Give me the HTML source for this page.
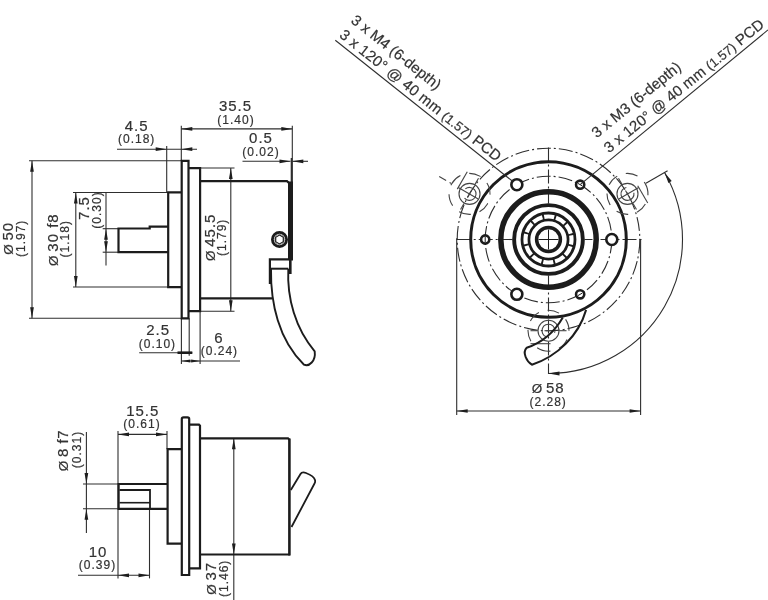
<!DOCTYPE html>
<html><head><meta charset="utf-8"><style>
html,body{margin:0;padding:0;background:#fff;}
svg{display:block;font-family:"Liberation Sans",sans-serif;will-change:transform;}
</style></head><body>
<svg width="768" height="600" viewBox="0 0 768 600">
<rect width="768" height="600" fill="#fff"/>
<text x="235.50" y="111.00" font-size="15" letter-spacing="1.0" text-anchor="middle" fill="#333" stroke="#333" stroke-width="0.2" >35.5</text>
<text x="236.00" y="124.20" font-size="12" letter-spacing="1.0" text-anchor="middle" fill="#333" stroke="#333" stroke-width="0.2" >(1.40)</text>
<text x="136.60" y="130.50" font-size="15" letter-spacing="1.0" text-anchor="middle" fill="#333" stroke="#333" stroke-width="0.2" >4.5</text>
<text x="136.70" y="143.00" font-size="12" letter-spacing="1.0" text-anchor="middle" fill="#333" stroke="#333" stroke-width="0.2" >(0.18)</text>
<text x="261.00" y="143.00" font-size="15" letter-spacing="1.0" text-anchor="middle" fill="#333" stroke="#333" stroke-width="0.2" >0.5</text>
<text x="261.00" y="156.00" font-size="12" letter-spacing="1.0" text-anchor="middle" fill="#333" stroke="#333" stroke-width="0.2" >(0.02)</text>
<text x="158.20" y="334.50" font-size="15" letter-spacing="1.0" text-anchor="middle" fill="#333" stroke="#333" stroke-width="0.2" >2.5</text>
<text x="157.40" y="348.30" font-size="12" letter-spacing="1.0" text-anchor="middle" fill="#333" stroke="#333" stroke-width="0.2" >(0.10)</text>
<text x="219.00" y="342.50" font-size="15" letter-spacing="1.0" text-anchor="middle" fill="#333" stroke="#333" stroke-width="0.2" >6</text>
<text x="219.40" y="355.00" font-size="12" letter-spacing="1.0" text-anchor="middle" fill="#333" stroke="#333" stroke-width="0.2" >(0.24)</text>
<text x="13.50" y="238.40" font-size="15" letter-spacing="1.0" text-anchor="middle" fill="#333" stroke="#333" stroke-width="0.2" transform="rotate(-90 13.50 238.40)" ><tspan font-size="13.5" letter-spacing="0">Ø </tspan>50</text>
<text x="25.00" y="238.30" font-size="12" letter-spacing="1.0" text-anchor="middle" fill="#333" stroke="#333" stroke-width="0.2" transform="rotate(-90 25.00 238.30)" >(1.97)</text>
<text x="58.30" y="239.60" font-size="15" letter-spacing="1.0" text-anchor="middle" fill="#333" stroke="#333" stroke-width="0.2" transform="rotate(-90 58.30 239.60)" ><tspan font-size="13.5" letter-spacing="0">Ø </tspan>30 f8</text>
<text x="69.50" y="238.70" font-size="12" letter-spacing="1.0" text-anchor="middle" fill="#333" stroke="#333" stroke-width="0.2" transform="rotate(-90 69.50 238.70)" >(1.18)</text>
<text x="89.20" y="208.00" font-size="15" letter-spacing="1.0" text-anchor="middle" fill="#333" stroke="#333" stroke-width="0.2" transform="rotate(-90 89.20 208.00)" >7.5</text>
<text x="100.80" y="210.00" font-size="12" letter-spacing="1.0" text-anchor="middle" fill="#333" stroke="#333" stroke-width="0.2" transform="rotate(-90 100.80 210.00)" >(0.30)</text>
<text x="215.50" y="237.30" font-size="15" letter-spacing="1.0" text-anchor="middle" fill="#333" stroke="#333" stroke-width="0.2" transform="rotate(-90 215.50 237.30)" ><tspan font-size="13.5" letter-spacing="0">Ø </tspan>45.5</text>
<text x="226.00" y="237.30" font-size="12" letter-spacing="1.0" text-anchor="middle" fill="#333" stroke="#333" stroke-width="0.2" transform="rotate(-90 226.00 237.30)" >(1.79)</text>
<line x1="29.00" y1="160.80" x2="181.00" y2="160.80" stroke="#2e2e2e" stroke-width="1.1" />
<line x1="29.00" y1="318.30" x2="181.00" y2="318.30" stroke="#2e2e2e" stroke-width="1.1" />
<line x1="32.00" y1="160.80" x2="32.00" y2="318.30" stroke="#2e2e2e" stroke-width="1.1" />
<path d="M32.00,160.80 L33.85,171.80 L30.15,171.80 Z" fill="#1e1e1e"/>
<path d="M32.00,318.30 L30.15,307.30 L33.85,307.30 Z" fill="#1e1e1e"/>
<line x1="73.00" y1="192.50" x2="168.00" y2="192.50" stroke="#2e2e2e" stroke-width="1.1" />
<line x1="73.00" y1="287.00" x2="168.00" y2="287.00" stroke="#2e2e2e" stroke-width="1.1" />
<line x1="75.80" y1="192.50" x2="75.80" y2="287.00" stroke="#2e2e2e" stroke-width="1.1" />
<path d="M75.80,192.50 L77.65,203.50 L73.95,203.50 Z" fill="#1e1e1e"/>
<path d="M75.80,287.00 L73.95,276.00 L77.65,276.00 Z" fill="#1e1e1e"/>
<line x1="102.70" y1="228.70" x2="118.50" y2="228.70" stroke="#2e2e2e" stroke-width="1.1" />
<line x1="102.70" y1="252.20" x2="118.50" y2="252.20" stroke="#2e2e2e" stroke-width="1.1" />
<line x1="106.00" y1="192.70" x2="106.00" y2="265.50" stroke="#2e2e2e" stroke-width="1.1" />
<path d="M106.00,228.70 L107.85,239.70 L104.15,239.70 Z" fill="#1e1e1e"/>
<path d="M106.00,252.20 L104.15,241.20 L107.85,241.20 Z" fill="#1e1e1e"/>
<line x1="166.70" y1="146.00" x2="166.70" y2="192.50" stroke="#2e2e2e" stroke-width="1.1" />
<line x1="181.30" y1="125.80" x2="181.30" y2="160.80" stroke="#2e2e2e" stroke-width="1.1" />
<line x1="117.00" y1="149.20" x2="197.00" y2="149.20" stroke="#2e2e2e" stroke-width="1.1" />
<path d="M166.70,149.20 L155.70,151.05 L155.70,147.35 Z" fill="#1e1e1e"/>
<path d="M181.30,149.20 L192.30,147.35 L192.30,151.05 Z" fill="#1e1e1e"/>
<line x1="181.30" y1="128.90" x2="292.30" y2="128.90" stroke="#2e2e2e" stroke-width="1.1" />
<path d="M181.30,128.90 L192.30,127.05 L192.30,130.75 Z" fill="#1e1e1e"/>
<path d="M292.30,128.90 L281.30,130.75 L281.30,127.05 Z" fill="#1e1e1e"/>
<line x1="292.30" y1="125.80" x2="292.30" y2="158.00" stroke="#2e2e2e" stroke-width="1.1" />
<line x1="291.80" y1="158.00" x2="291.80" y2="182.00" stroke="#2e2e2e" stroke-width="2.2" />
<line x1="242.50" y1="161.30" x2="290.50" y2="161.30" stroke="#2e2e2e" stroke-width="1.1" />
<path d="M290.50,161.30 L279.50,163.15 L279.50,159.45 Z" fill="#1e1e1e"/>
<line x1="292.30" y1="161.30" x2="308.00" y2="161.30" stroke="#2e2e2e" stroke-width="1.1" />
<path d="M292.30,161.30 L303.30,159.45 L303.30,163.15 Z" fill="#1e1e1e"/>
<line x1="200.00" y1="168.00" x2="234.50" y2="168.00" stroke="#2e2e2e" stroke-width="1.1" />
<line x1="200.00" y1="311.30" x2="234.50" y2="311.30" stroke="#2e2e2e" stroke-width="1.1" />
<line x1="230.80" y1="168.00" x2="230.80" y2="311.30" stroke="#2e2e2e" stroke-width="1.1" />
<path d="M230.80,168.00 L232.65,179.00 L228.95,179.00 Z" fill="#1e1e1e"/>
<path d="M230.80,311.30 L228.95,300.30 L232.65,300.30 Z" fill="#1e1e1e"/>
<line x1="181.40" y1="318.30" x2="181.40" y2="364.00" stroke="#2e2e2e" stroke-width="1.1" />
<line x1="189.20" y1="318.30" x2="189.20" y2="355.80" stroke="#2e2e2e" stroke-width="1.1" />
<line x1="200.10" y1="311.30" x2="200.10" y2="364.00" stroke="#2e2e2e" stroke-width="1.1" />
<line x1="139.20" y1="352.70" x2="192.30" y2="352.70" stroke="#2e2e2e" stroke-width="1.1" />
<line x1="177.50" y1="352.70" x2="192.30" y2="352.70" stroke="#1c1c1c" stroke-width="2.6" />
<line x1="181.40" y1="361.00" x2="240.00" y2="361.00" stroke="#2e2e2e" stroke-width="1.1" />
<path d="M181.40,361.00 L190.40,359.40 L190.40,362.60 Z" fill="#1e1e1e"/>
<path d="M200.10,361.00 L191.10,362.60 L191.10,359.40 Z" fill="#1e1e1e"/>
<path d="M168.40,226.70 L149.70,226.70 L149.70,228.50 L118.50,228.50 L118.50,252.20 L168.40,252.20" fill="none" stroke="#1c1c1c" stroke-width="2.2" stroke-linejoin="miter" />
<path d="M181.50,192.40 L168.20,192.40 L168.20,287.10 L181.50,287.10" fill="none" stroke="#1c1c1c" stroke-width="2.2" stroke-linejoin="miter" />
<path d="M181.70,318.30 L181.70,160.80 L188.50,160.80 L188.50,318.30 L181.70,318.30 Z" fill="none" stroke="#1c1c1c" stroke-width="2.2" stroke-linejoin="miter" />
<path d="M188.50,168.20 L200.10,168.20 L200.10,311.20 L188.50,311.20" fill="none" stroke="#1c1c1c" stroke-width="2.2" stroke-linejoin="miter" />
<path d="M200.10,181.20 L287.00,181.20 L289.50,183.50" fill="none" stroke="#1c1c1c" stroke-width="2.2" stroke-linejoin="miter" />
<path d="M200.10,298.30 L272.30,298.30" fill="none" stroke="#1c1c1c" stroke-width="2.2" stroke-linejoin="miter" />
<rect x="288" y="181.5" width="5" height="79" fill="#1c1c1c"/>
<rect x="289" y="258" width="2.6" height="16" fill="#1c1c1c"/>
<circle cx="279.5" cy="239.5" r="7.1" fill="#fff" stroke="#1c1c1c" stroke-width="2.8"/>
<circle cx="279.5" cy="239.5" r="5.1" fill="none" stroke="#888" stroke-width="0.8"/>
<polygon points="279.50,235.10 283.31,237.30 283.31,241.70 279.50,243.90 275.69,241.70 275.69,237.30" fill="none" stroke="#1c1c1c" stroke-width="1.2"/>
<path d="M288.30,259.30 L269.90,259.30 L269.90,284.00" fill="none" stroke="#1c1c1c" stroke-width="2.2" stroke-linejoin="miter" />
<line x1="271.00" y1="268.70" x2="288.30" y2="268.70" stroke="#1c1c1c" stroke-width="2" />
<path d="M271.0,268.7 C270.5,303.0 278.5,340.0 304.0,364.7 C309,367 316,361 314.7,351.3 C295.4,328.6 286.9,298.3 288.3,268.7" fill="none" stroke="#1c1c1c" stroke-width="1.9" />
<text x="142.80" y="416.40" font-size="15" letter-spacing="1.0" text-anchor="middle" fill="#333" stroke="#333" stroke-width="0.2" >15.5</text>
<text x="142.00" y="428.00" font-size="12" letter-spacing="1.0" text-anchor="middle" fill="#333" stroke="#333" stroke-width="0.2" >(0.61)</text>
<text x="98.00" y="557.00" font-size="15" letter-spacing="1.0" text-anchor="middle" fill="#333" stroke="#333" stroke-width="0.2" >10</text>
<text x="97.50" y="569.00" font-size="12" letter-spacing="1.0" text-anchor="middle" fill="#333" stroke="#333" stroke-width="0.2" >(0.39)</text>
<text x="68.20" y="450.50" font-size="15" letter-spacing="0.5" text-anchor="middle" fill="#333" stroke="#333" stroke-width="0.2" transform="rotate(-90 68.20 450.50)" ><tspan font-size="13.5" letter-spacing="0">Ø </tspan>8 f7</text>
<text x="80.50" y="449.50" font-size="12" letter-spacing="1.0" text-anchor="middle" fill="#333" stroke="#333" stroke-width="0.2" transform="rotate(-90 80.50 449.50)" >(0.31)</text>
<text x="216.00" y="578.30" font-size="15" letter-spacing="1.0" text-anchor="middle" fill="#333" stroke="#333" stroke-width="0.2" transform="rotate(-90 216.00 578.30)" ><tspan font-size="13.5" letter-spacing="0">Ø </tspan>37</text>
<text x="228.30" y="578.30" font-size="12" letter-spacing="1.0" text-anchor="middle" fill="#333" stroke="#333" stroke-width="0.2" transform="rotate(-90 228.30 578.30)" >(1.46)</text>
<line x1="118.00" y1="431.00" x2="118.00" y2="578.40" stroke="#2e2e2e" stroke-width="1.1" />
<line x1="167.00" y1="431.00" x2="167.00" y2="449.20" stroke="#2e2e2e" stroke-width="1.1" />
<line x1="118.00" y1="434.40" x2="167.00" y2="434.40" stroke="#2e2e2e" stroke-width="1.1" />
<path d="M118.00,434.40 L129.00,432.55 L129.00,436.25 Z" fill="#1e1e1e"/>
<path d="M167.00,434.40 L156.00,436.25 L156.00,432.55 Z" fill="#1e1e1e"/>
<line x1="86.40" y1="432.00" x2="86.40" y2="533.00" stroke="#2e2e2e" stroke-width="1.1" />
<path d="M86.40,484.00 L84.55,473.00 L88.25,473.00 Z" fill="#1e1e1e"/>
<path d="M86.40,508.70 L88.25,519.70 L84.55,519.70 Z" fill="#1e1e1e"/>
<line x1="83.00" y1="484.00" x2="168.00" y2="484.00" stroke="#2e2e2e" stroke-width="1.1" />
<line x1="83.00" y1="508.70" x2="168.00" y2="508.70" stroke="#2e2e2e" stroke-width="1.1" />
<line x1="149.50" y1="508.70" x2="149.50" y2="578.40" stroke="#2e2e2e" stroke-width="1.1" />
<line x1="78.00" y1="575.30" x2="149.50" y2="575.30" stroke="#2e2e2e" stroke-width="1.1" />
<path d="M118.00,575.30 L129.00,573.45 L129.00,577.15 Z" fill="#1e1e1e"/>
<path d="M149.50,575.30 L138.50,577.15 L138.50,573.45 Z" fill="#1e1e1e"/>
<line x1="233.80" y1="438.30" x2="233.80" y2="600.00" stroke="#2e2e2e" stroke-width="1.1" />
<path d="M233.80,438.30 L235.65,449.30 L231.95,449.30 Z" fill="#1e1e1e"/>
<path d="M233.80,554.50 L231.95,543.50 L235.65,543.50 Z" fill="#1e1e1e"/>
<path d="M168.00,484.00 L118.60,484.00 L118.60,508.80 L168.00,508.80" fill="none" stroke="#1c1c1c" stroke-width="2.2" stroke-linejoin="miter" />
<path d="M119.50,490.00 L150.00,490.00 L150.00,508.80" fill="none" stroke="#1c1c1c" stroke-width="1.8" stroke-linejoin="miter" />
<line x1="119.50" y1="502.70" x2="150.00" y2="502.70" stroke="#1c1c1c" stroke-width="1.6" />
<path d="M181.50,449.20 L167.60,449.20 L167.60,543.70 L181.50,543.70" fill="none" stroke="#1c1c1c" stroke-width="2.2" stroke-linejoin="miter" />
<path d="M181.8,575 L181.8,419 Q181.8,417.3 183.5,417.3 L187.5,417.3 Q189.2,417.3 189.2,419 L189.2,575 Z" fill="none" stroke="#1c1c1c" stroke-width="2.2" />
<path d="M189.20,424.70 L199.00,424.70 L200.00,425.70 L200.00,568.30 L189.20,568.30" fill="none" stroke="#1c1c1c" stroke-width="2.2" stroke-linejoin="miter" />
<path d="M200.00,438.30 L288.00,438.30 L289.40,439.70" fill="none" stroke="#1c1c1c" stroke-width="2.2" stroke-linejoin="miter" />
<line x1="200.00" y1="554.50" x2="290.00" y2="554.50" stroke="#1c1c1c" stroke-width="2.2" />
<line x1="289.40" y1="438.50" x2="289.40" y2="555.50" stroke="#1c1c1c" stroke-width="2.6" />
<path d="M290.8,490 L300.5,474 Q302,471.5 306,473 Q314,476 315,480 Q315.5,482 314.5,483.5 L291.5,527" fill="none" stroke="#1c1c1c" stroke-width="1.8" />
<line x1="456.70" y1="239.50" x2="512.50" y2="239.50" stroke="#2e2e2e" stroke-width="1.1" stroke-dasharray="14 3 2 3"/>
<line x1="584.50" y1="239.50" x2="642.50" y2="239.50" stroke="#2e2e2e" stroke-width="1.1" stroke-dasharray="14 3 2 3" stroke-dashoffset="6"/>
<line x1="548.50" y1="147.50" x2="548.50" y2="203.50" stroke="#2e2e2e" stroke-width="1.1" stroke-dasharray="14 3 2 3"/>
<line x1="548.50" y1="275.50" x2="548.50" y2="374.00" stroke="#2e2e2e" stroke-width="1.1" stroke-dasharray="14 3 2 3"/>
<circle cx="548.5" cy="239.5" r="91.3" fill="none" stroke="#2e2e2e" stroke-width="1.1" stroke-dasharray="14 3 2 3"/>
<circle cx="548.5" cy="239.5" r="63.3" fill="none" stroke="#2e2e2e" stroke-width="1.1" stroke-dasharray="14 3 2 3"/>
<circle cx="548.5" cy="239.5" r="77.8" fill="none" stroke="#1c1c1c" stroke-width="3"/>
<circle cx="548.5" cy="239.5" r="47.7" fill="none" stroke="#1c1c1c" stroke-width="5.5"/>
<circle cx="548.5" cy="239.5" r="34.35" fill="none" stroke="#1c1c1c" stroke-width="3.9"/>
<circle cx="548.5" cy="239.5" r="23.05" fill="none" stroke="#1c1c1c" stroke-width="9.7"/>
<circle cx="548.5" cy="239.5" r="23.0" fill="none" stroke="#fff" stroke-width="4.2" stroke-dasharray="10.243 1.8" stroke-dashoffset="5.121"/>
<circle cx="548.5" cy="239.5" r="11.9" fill="none" stroke="#1c1c1c" stroke-width="3.5"/>
<line x1="538.50" y1="239.50" x2="558.50" y2="239.50" stroke="#1c1c1c" stroke-width="1" />
<line x1="548.50" y1="229.50" x2="548.50" y2="249.50" stroke="#1c1c1c" stroke-width="1" />
<circle cx="611.80" cy="239.50" r="5.5" fill="#fff" stroke="#1c1c1c" stroke-width="2.6"/>
<circle cx="580.15" cy="184.68" r="4.1" fill="#fff" stroke="#1c1c1c" stroke-width="2.6"/>
<line x1="582.32" y1="185.93" x2="577.98" y2="183.43" stroke="#1c1c1c" stroke-width="1"/>
<circle cx="516.85" cy="184.68" r="5.5" fill="#fff" stroke="#1c1c1c" stroke-width="2.6"/>
<circle cx="485.20" cy="239.50" r="4.1" fill="#fff" stroke="#1c1c1c" stroke-width="2.6"/>
<line x1="485.20" y1="237.00" x2="485.20" y2="242.00" stroke="#1c1c1c" stroke-width="1"/>
<circle cx="516.85" cy="294.32" r="5.5" fill="#fff" stroke="#1c1c1c" stroke-width="2.6"/>
<circle cx="580.15" cy="294.32" r="4.1" fill="#fff" stroke="#1c1c1c" stroke-width="2.6"/>
<line x1="577.98" y1="295.57" x2="582.32" y2="293.07" stroke="#1c1c1c" stroke-width="1"/>
<circle cx="627.48" cy="193.90" r="10.5" fill="none" stroke="#444" stroke-width="1.1"/>
<path d="M633.88,192.77 A6.5,6.5 0 1 1 626.35,187.50" fill="none" stroke="#444" stroke-width="1.1"/>
<circle cx="627.48" cy="193.90" r="20.5" fill="none" stroke="#444" stroke-width="1.1" stroke-dasharray="12 9" transform="rotate(-30 627.48 193.90)"/>
<line x1="618.82" y1="198.90" x2="638.74" y2="187.40" stroke="#444" stroke-width="1.1"/>
<line x1="618.48" y1="178.31" x2="621.98" y2="184.37" stroke="#444" stroke-width="1.1"/>
<line x1="632.98" y1="203.43" x2="636.48" y2="209.49" stroke="#444" stroke-width="1.1"/>
<line x1="625.48" y1="190.44" x2="629.48" y2="197.36" stroke="#444" stroke-width="1.1"/>
<line x1="637.74" y1="185.67" x2="647.74" y2="202.99" stroke="#444" stroke-width="1.1"/>
<circle cx="469.52" cy="193.90" r="10.5" fill="none" stroke="#444" stroke-width="1.1"/>
<path d="M465.34,188.92 A6.5,6.5 0 1 1 464.54,198.08" fill="none" stroke="#444" stroke-width="1.1"/>
<circle cx="469.52" cy="193.90" r="20.5" fill="none" stroke="#444" stroke-width="1.1" stroke-dasharray="12 9" transform="rotate(-150 469.52 193.90)"/>
<line x1="478.18" y1="198.90" x2="458.26" y2="187.40" stroke="#444" stroke-width="1.1"/>
<line x1="451.33" y1="183.40" x2="439.21" y2="176.40" stroke="#444" stroke-width="1.1" stroke-dasharray="2 4 8 40"/>
<line x1="460.52" y1="209.49" x2="464.02" y2="203.43" stroke="#444" stroke-width="1.1"/>
<line x1="475.02" y1="184.37" x2="478.52" y2="178.31" stroke="#444" stroke-width="1.1"/>
<line x1="467.52" y1="197.36" x2="471.52" y2="190.44" stroke="#444" stroke-width="1.1"/>
<line x1="457.26" y1="189.13" x2="467.26" y2="171.81" stroke="#444" stroke-width="1.1"/>
<circle cx="548.50" cy="330.70" r="10.5" fill="none" stroke="#444" stroke-width="1.1"/>
<path d="M546.28,336.81 A6.5,6.5 0 1 1 554.61,332.92" fill="none" stroke="#444" stroke-width="1.1"/>
<circle cx="548.50" cy="330.70" r="20.5" fill="none" stroke="#444" stroke-width="1.1" stroke-dasharray="12 9" transform="rotate(-270 548.50 330.70)"/>
<line x1="566.50" y1="330.70" x2="559.50" y2="330.70" stroke="#444" stroke-width="1.1"/>
<line x1="537.50" y1="330.70" x2="530.50" y2="330.70" stroke="#444" stroke-width="1.1"/>
<line x1="552.50" y1="330.70" x2="544.50" y2="330.70" stroke="#444" stroke-width="1.1"/>
<line x1="550.50" y1="343.70" x2="530.50" y2="343.70" stroke="#444" stroke-width="1.1"/>
<line x1="335.30" y1="40.30" x2="512.55" y2="181.26" stroke="#2e2e2e" stroke-width="1.1" />
<line x1="768.00" y1="29.90" x2="580.15" y2="184.68" stroke="#2e2e2e" stroke-width="1.1" />
<path d="M664.55,172.50 A134,134 0 0 1 548.50,373.50" fill="none" stroke="#2e2e2e" stroke-width="1.1"/>
<line x1="645.93" y1="183.25" x2="667.58" y2="170.75" stroke="#2e2e2e" stroke-width="1.1" />
<path d="M664.55,172.50 L671.69,181.08 L668.40,182.98 Z" fill="#1e1e1e"/>
<path d="M548.50,373.50 L559.50,371.60 L559.50,375.40 Z" fill="#1e1e1e"/>
<line x1="456.70" y1="238.30" x2="456.70" y2="415.00" stroke="#2e2e2e" stroke-width="1.1" />
<line x1="640.60" y1="239.50" x2="640.60" y2="415.00" stroke="#2e2e2e" stroke-width="1.1" />
<line x1="456.70" y1="411.00" x2="640.60" y2="411.00" stroke="#2e2e2e" stroke-width="1.1" />
<path d="M456.70,411.00 L467.70,409.15 L467.70,412.85 Z" fill="#1e1e1e"/>
<path d="M640.60,411.00 L629.60,412.85 L629.60,409.15 Z" fill="#1e1e1e"/>
<text x="548.20" y="393.30" font-size="15" letter-spacing="1.0" text-anchor="middle" fill="#333" stroke="#333" stroke-width="0.2" ><tspan font-size="13.5" letter-spacing="0">Ø </tspan>58</text>
<text x="548.20" y="406.00" font-size="12" letter-spacing="1.0" text-anchor="middle" fill="#333" stroke="#333" stroke-width="0.2" >(2.28)</text>
<path d="M562.8,317.5 C554.8,331.4 542.0,342.6 526.7,347.8 C521.9,352.7 526.9,361.8 531.9,364.7 C557.2,356.4 578.7,335.7 586.1,309.9" fill="none" stroke="#1c1c1c" stroke-width="2" />
<text x="350.10" y="22.00" font-size="15" fill="#333" stroke="#333" stroke-width="0.2" transform="rotate(38.5 350.10 22.00)">3 x M4 (6-depth)</text>
<text x="338.60" y="36.60" font-size="15" fill="#333" stroke="#333" stroke-width="0.2" textLength="201.5" lengthAdjust="spacing" transform="rotate(38.5 338.60 36.60)">3 x 120° @ 40 mm <tspan font-size="13">(1.57)</tspan> PCD</text>
<text x="596.80" y="138.50" font-size="15" fill="#333" stroke="#333" stroke-width="0.2" transform="rotate(-39.2 596.80 138.50)">3 x M3 (6-depth)</text>
<text x="609.00" y="153.40" font-size="15" fill="#333" stroke="#333" stroke-width="0.2" textLength="201.5" lengthAdjust="spacing" transform="rotate(-39.2 609.00 153.40)">3 x 120° @ 40 mm <tspan font-size="13">(1.57)</tspan> PCD</text>
</svg></body></html>
